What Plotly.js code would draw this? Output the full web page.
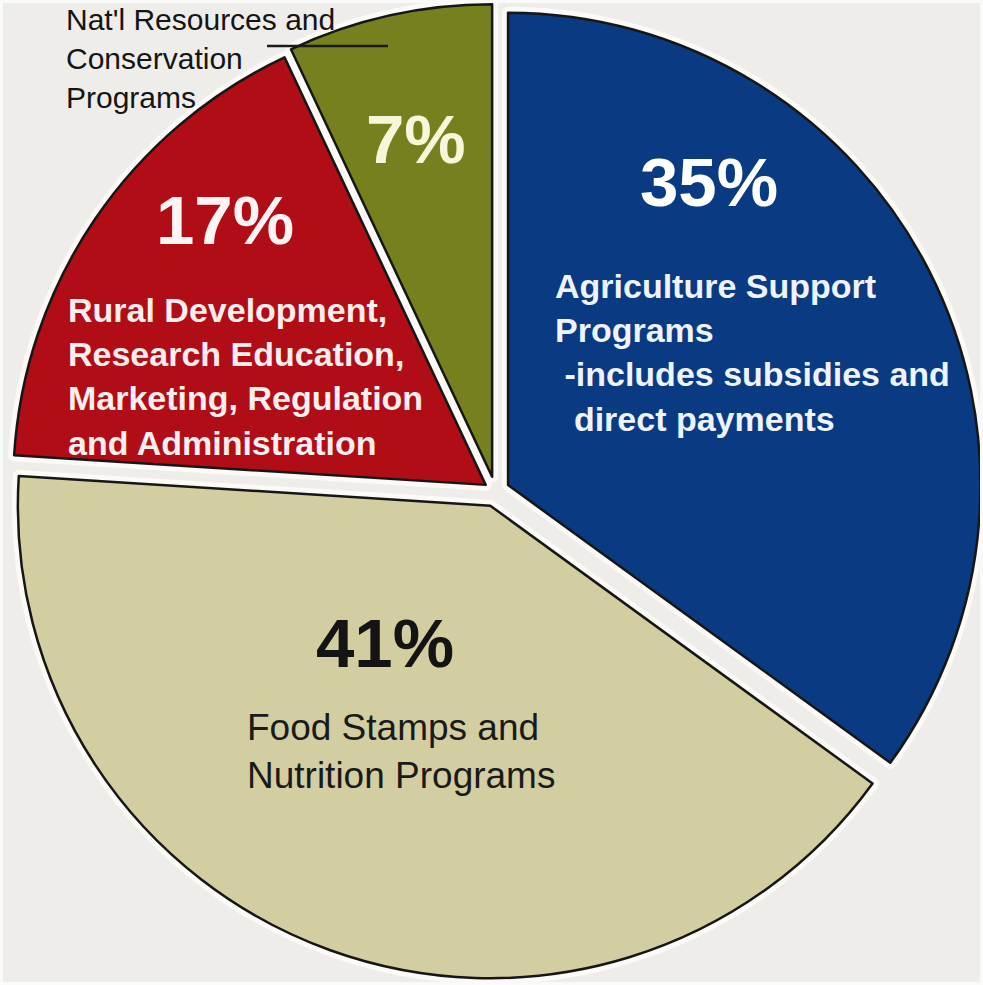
<!DOCTYPE html>
<html>
<head>
<meta charset="utf-8">
<script src="https://cdn.plot.ly/plotly-3.0.1.min.js"></script>
<style>html,body{margin:0;padding:0;background:#efede9;}</style>
</head>
<body>
<div id="chart" style="width:983px;height:985px;"></div>
<script>
// ---- data ----
const categories = [
  "Agriculture Support Programs",
  "Food Stamps and Nutrition Programs",
  "Rural Development, Research Education, Marketing, Regulation and Administration",
  "Nat'l Resources and Conservation Programs"
];
const shares = [35, 41, 17, 7];
const sliceColors = ["#0a3a82", "#d3cea2", "#b10d16", "#76801f"];
const pulls = [0.03, 0.032, 0.025, 0.032];
const descriptions = [
  "Agriculture Support<br>Programs<br>\u00a0-includes subsidies and<br>\u00a0\u00a0direct payments",
  "Food Stamps and<br>Nutrition Programs",
  "Rural Development,<br>Research Education,<br>Marketing, Regulation<br>and Administration",
  "Nat'l Resources and<br>Conservation<br>Programs"
];

// ---- layout helpers ----
const W = 983, H = 985;
const px = x => x / W;
const py = y => 1 - y / H;
const FONT = "Liberation Sans, Arial, sans-serif";

const base = {
  type: "pie",
  values: shares,
  labels: categories,
  sort: false,
  direction: "clockwise",
  rotation: 0,
  pull: pulls,
  textinfo: "none",
  hoverinfo: "skip",
  showlegend: false,
  domain: {x: [0.008, 1], y: [0.002, 1]}
};

const halo = Object.assign({}, base, {
  marker: {colors: sliceColors, line: {color: "#fbfaf7", width: 12}}
});
const main = Object.assign({}, base, {
  marker: {colors: sliceColors, line: {color: "#161616", width: 2.5}}
});

// label placement / style per slice
const pctPos = [[709, 182], [385, 643], [225, 220], [416, 140]];
const pctColor = ["#ffffff", "#141414", "#fff4f4", "#f6f6d8"];
const descPos = [[553, 352], [245, 751], [66, 376], [64, 58]];
const descColor = ["#eef3ff", "#1a1a1a", "#fbeeee", "#151515"];
const descSize = [34, 37, 34, 30];
const descWeight = ["bold", "normal", "bold", "normal"];

const annotations = [];
shares.forEach((v, i) => {
  annotations.push({
    xref: "paper", yref: "paper",
    x: px(pctPos[i][0]), y: py(pctPos[i][1]),
    xanchor: "center", yanchor: "middle",
    text: v + "%", showarrow: false,
    font: {family: FONT, size: 69, color: pctColor[i], weight: "bold"}
  });
  annotations.push({
    xref: "paper", yref: "paper",
    x: px(descPos[i][0]), y: py(descPos[i][1]),
    xanchor: "left", yanchor: "middle", align: "left",
    text: descriptions[i], showarrow: false,
    font: {family: FONT, size: descSize[i], color: descColor[i], weight: descWeight[i]}
  });
});

const layout = {
  width: W, height: H,
  margin: {l: 0, r: 0, t: 0, b: 0},
  paper_bgcolor: "#efede9",
  plot_bgcolor: "#efede9",
  annotations: annotations,
  shapes: [
    {type: "line", xref: "paper", yref: "paper",
     x0: px(267), x1: px(388), y0: py(46), y1: py(46),
     line: {color: "#1a1a1a", width: 2.5}},
    {type: "rect", xref: "paper", yref: "paper",
     x0: 0, x1: 1, y0: 0, y1: 1,
     line: {color: "#fafaf8", width: 6}}
  ]
};

Plotly.newPlot("chart", [halo, main], layout, {staticPlot: true, displayModeBar: false});
</script>
</body>
</html>
